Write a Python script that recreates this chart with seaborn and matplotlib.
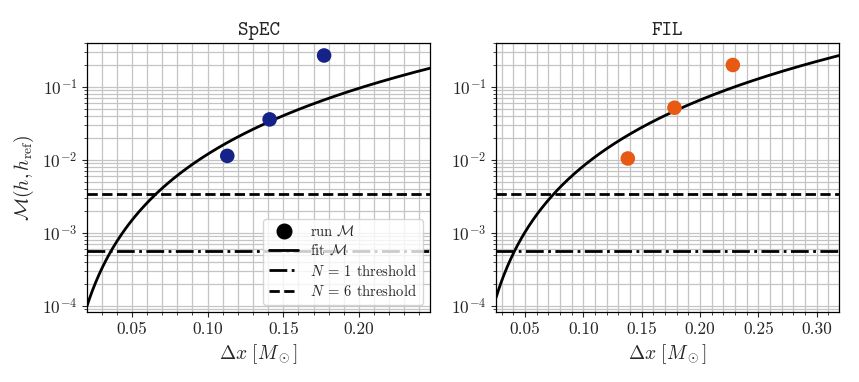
import numpy as np
import pandas as pd
import matplotlib
matplotlib.use("Agg")
import matplotlib.pyplot as plt
from matplotlib.lines import Line2D
from matplotlib.ticker import MultipleLocator
import seaborn as sns


###### data
# run mismatches
spec_dx = [0.113, 0.141, 0.177]
spec_mismatch = [0.0114, 0.036, 0.27]
fil_dx = [0.138, 0.178, 0.228]
fil_mismatch = [0.0105, 0.052, 0.20]

# power-law fits  M = amp * dx**power
spec_fit_amp, spec_fit_power = 12.0, 3.0
fil_fit_amp, fil_fit_power = 8.3, 3.0

# mismatch thresholds
threshold_n1 = 5.66e-4
threshold_n6 = 3.4e-3

spec_xlim = (0.0203, 0.247)
fil_xlim = (0.025, 0.319)
ylim = (8.3e-5, 0.40)

spec_color = "#152288"
fil_color = "#e85a14"


sns.set_style("ticks")
plt.rcParams["font.family"] = ["cmr10", "DejaVu Serif"]
plt.rcParams["mathtext.fontset"] = "cm"
plt.rcParams["axes.formatter.use_mathtext"] = True
plt.rcParams["axes.unicode_minus"] = False


def panel(ax, title, dx, mism, amp, power, xlim, color):
    xs = np.linspace(xlim[0], xlim[1], 400)
    df_fit = pd.DataFrame({"dx": xs, "M": amp * xs ** power})
    df_run = pd.DataFrame({"dx": dx, "M": mism})

    ax.axhline(threshold_n6, color="black", lw=2, ls="--", zorder=2)
    ax.axhline(threshold_n1, color="black", lw=2, ls="-.", zorder=2)
    sns.lineplot(data=df_fit, x="dx", y="M", ax=ax, color="black", lw=2, zorder=3)
    sns.scatterplot(data=df_run, x="dx", y="M", ax=ax, color=color, s=110,
                    edgecolor="none", zorder=4)

    ax.set_yscale("log")
    ax.set_xlim(*xlim)
    ax.set_ylim(*ylim)
    ax.xaxis.set_major_locator(MultipleLocator(0.05))
    ax.xaxis.set_minor_locator(MultipleLocator(0.01))
    ax.xaxis.set_major_formatter(plt.FuncFormatter(lambda v, p: f"{v:.2f}"))
    ax.grid(which="both", color="#c4c4c4", lw=0.9)
    ax.set_axisbelow(True)
    ax.tick_params(labelsize=12.5)
    for s in ax.spines.values():
        s.set_color("black")
        s.set_linewidth(0.9)
    ax.set_title(title, fontfamily="cmtt10", fontsize=14.5)
    ax.set_xlabel(r"$\Delta x\ [M_\odot]$", fontsize=14)
    ax.set_ylabel("")


fig = plt.figure(figsize=(8.59, 3.82), dpi=100)
ax1 = fig.add_axes([0.1013, 0.1832, 0.3993, 0.7042])
ax2 = fig.add_axes([0.5774, 0.1832, 0.3993, 0.7042])

panel(ax1, "SpEC", spec_dx, spec_mismatch, spec_fit_amp, spec_fit_power, spec_xlim, spec_color)
panel(ax2, "FIL", fil_dx, fil_mismatch, fil_fit_amp, fil_fit_power, fil_xlim, fil_color)
ax1.set_ylabel(r"$\mathcal{M}(h, h_{\rm ref})$", fontsize=14)

handles = [
    Line2D([], [], color="black", marker="o", ls="none", markersize=10.5),
    Line2D([], [], color="black", lw=2),
    Line2D([], [], color="black", lw=2, ls="-."),
    Line2D([], [], color="black", lw=2, ls="--"),
]
labels = [r"run $\mathcal{M}$", r"fit $\mathcal{M}$",
          r"$N\:=\:1$ threshold", r"$N\:=\:6$ threshold"]
ax1.legend(handles, labels, loc="lower right", fontsize=10.5, framealpha=0.8,
           labelspacing=0.3)

fig.savefig("out.png", dpi=100)
